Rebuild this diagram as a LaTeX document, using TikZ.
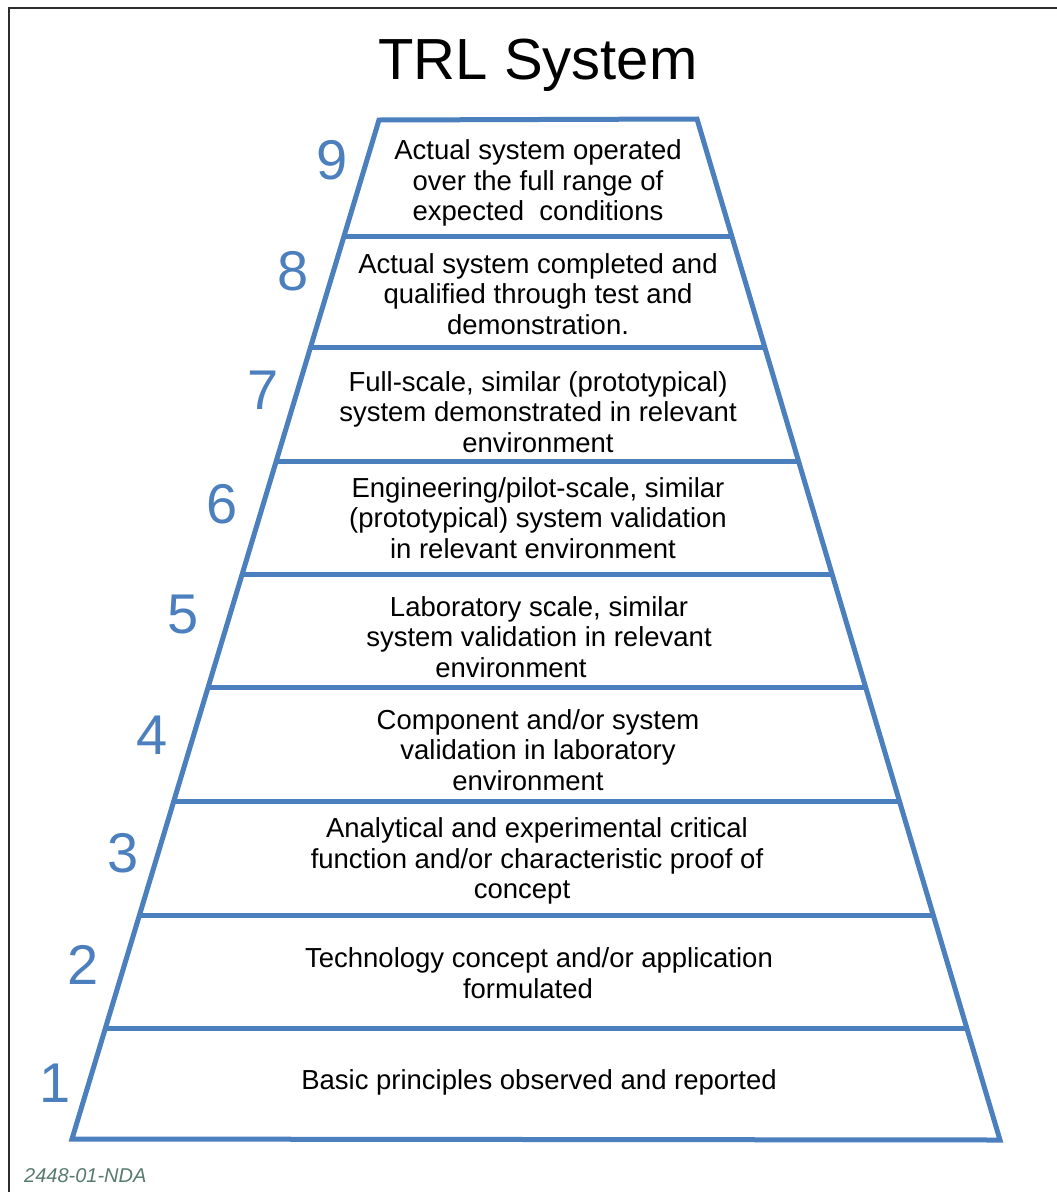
\documentclass[tikz,border=0pt]{standalone}
\usepackage{fontspec}
\setmainfont{Liberation Sans}
\definecolor{trlblue}{RGB}{76,127,190}
\definecolor{framegray}{RGB}{45,45,45}
\definecolor{footgreen}{RGB}{88,122,108}
\begin{document}
\begin{tikzpicture}[x=1pt,y=-1pt,
  edge/.style={draw=trlblue,line width=5pt,line join=miter},
  tiertext/.style={align=center,font=\fontsize{27.5}{30.8}\selectfont,text=black,inner sep=0pt},
  tiernum/.style={font=\fontsize{56}{60}\selectfont,text=trlblue,inner sep=0pt}]
\useasboundingbox (0,0) rectangle (1057,1192);
\fill[white] (0,0) rectangle (1057,1192);
% frame
\draw[framegray,line width=2.2pt] (9,1192) -- (9,8) -- (1057,8);
% title
\node[font=\fontsize{58}{62}\selectfont,inner sep=0pt] (title) at (538,65) {TRL System};
% pyramid outline
\coordinate (TL) at (379,120);
\coordinate (TR) at (697,119);
\coordinate (BR) at (1000,1140);
\coordinate (BL) at (72,1139);
\path[edge] (TL) -- (TR) -- (BR) -- (BL) -- cycle;
% dividers
\foreach \y/\xl/\xr in {236/344.0/731.7, 347/310.6/764.7, 461/276.3/798.5, 574/242.2/832.0,
  687/208.2/865.6, 801/173.8/899.4, 915/139.5/933.2, 1028/105.4/966.8}{
  \path[edge] (\xl,\y) -- (\xr,\y);
}
% tier texts
\node[tiertext] (t9) at (538,183) {Actual system operated\\over the full range of\\expected\ \ conditions};
\node[tiertext] (t8) at (538,294) {Actual system completed and\\qualified through test and\\demonstration.};
\node[tiertext] (t7) at (538,412) {Full-scale, similar (prototypical)\\system demonstrated in relevant\\environment};
\node[tiertext] (t6) at (538,518) {Engineering/pilot-scale, similar\\(prototypical) system validation\\in relevant environment\hspace*{10pt}};
\node[tiertext] (t5) at (539,637) {Laboratory scale, similar\\system validation in relevant\\environment\hspace*{56pt}};
\node[tiertext] (t4) at (538,750) {Component and/or system\\validation in laboratory\\environment\hspace*{20pt}};
\node[tiertext] (t3) at (537,861) {Analytical and experimental critical\\function and/or characteristic proof of\\concept\hspace*{30pt}};
\node[tiertext] (t2) at (539,973) {Technology concept and/or application\\formulated\hspace*{22pt}};
\node[tiertext] (t1) at (539,1082) {Basic principles observed and reported};
% numbers
\node[tiernum] (n9) at (332,160) {9};
\node[tiernum] (n8) at (293,271) {8};
\node[tiernum] (n7) at (263,390) {7};
\node[tiernum] (n6) at (222,504) {6};
\node[tiernum] (n5) at (183,615) {5};
\node[tiernum] (n4) at (152,735) {4};
\node[tiernum] (n3) at (123,853) {3};
\node[tiernum] (n2) at (83,965) {2};
\node[tiernum] (n1) at (55,1083) {1};
% footer
\node[font=\fontsize{20}{22}\selectfont\itshape,text=footgreen,anchor=west,inner sep=0pt] (foot) at (24,1176) {2448-01-NDA};
\end{tikzpicture}
\end{document}
